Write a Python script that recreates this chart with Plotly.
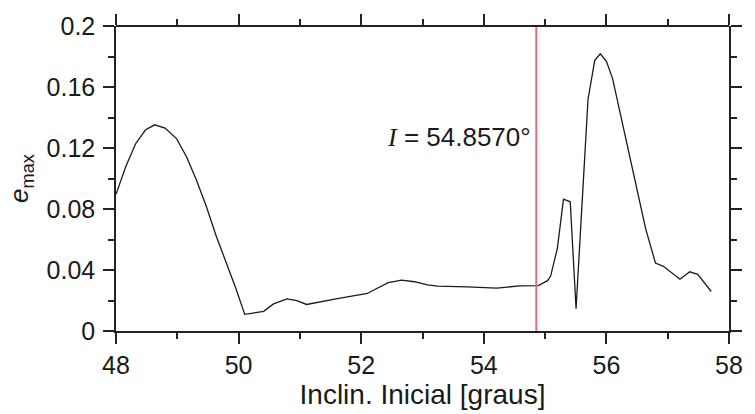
import plotly.graph_objects as go

# Initial inclination [deg] and maximum eccentricity
incl = [48.00, 48.16, 48.32, 48.48, 48.63, 48.80, 48.99, 49.15, 49.31, 49.47,
        49.63, 49.79, 49.95, 50.10, 50.41, 50.57, 50.79, 50.95, 51.11, 51.59,
        52.10, 52.23, 52.44, 52.66, 52.87, 53.08, 53.25, 53.73, 54.21, 54.58,
        54.89, 55.04, 55.09, 55.20, 55.30, 55.41, 55.505, 55.70, 55.81, 55.90,
        56.00, 56.10, 56.29, 56.48, 56.64, 56.80, 56.93, 57.20, 57.36, 57.49,
        57.71]
emax = [0.0896, 0.1078, 0.1228, 0.1318, 0.1352, 0.1331, 0.1260, 0.1143, 0.0992, 0.0821,
        0.0628, 0.0457, 0.0285, 0.0109, 0.0129, 0.0178, 0.0210, 0.0199, 0.0174, 0.0210,
        0.0246, 0.0274, 0.0317, 0.0334, 0.0323, 0.0302, 0.0294, 0.0289, 0.0281, 0.0296,
        0.0298, 0.0330, 0.0360, 0.0542, 0.0864, 0.0847, 0.0146, 0.1518, 0.1775, 0.1818,
        0.1768, 0.1657, 0.1314, 0.0971, 0.0671, 0.0446, 0.0424, 0.0339, 0.0388, 0.0371,
        0.0259]

crit_incl = 54.857
crit_label = "<span style='font-family:Liberation Serif'><i>I</i></span> = 54.8570°"
x_range = [48, 58]
y_range = [0, 0.2]
x_title = "Inclin. Inicial [graus]"
y_title = "<i>e</i><sub>max</sub>"

FONT = "Liberation Sans, Arial, sans-serif"
AX = "#222222"

fig = go.Figure()
fig.add_trace(go.Scatter(x=incl, y=emax, mode="lines",
                         line=dict(color="#1a1a1a", width=1.3),
                         showlegend=False, hoverinfo="skip"))
fig.add_trace(go.Scatter(x=[crit_incl, crit_incl], y=y_range, mode="lines",
                         line=dict(color="rgb(228,108,125)", width=2),
                         showlegend=False, hoverinfo="skip"))
# invisible trace carrying the top frame axis
fig.add_trace(go.Scatter(x=x_range, y=y_range, xaxis="x2", yaxis="y",
                         mode="markers", marker=dict(opacity=0),
                         showlegend=False, hoverinfo="skip"))

common_x = dict(range=x_range, dtick=2, tick0=48, ticks="outside", ticklen=11,
                tickwidth=1.5, tickcolor=AX, showline=True, linecolor=AX,
                linewidth=1.5, showgrid=False, zeroline=False,
                minor=dict(dtick=1, ticklen=6, tickwidth=1.5, tickcolor=AX,
                           ticks="outside", showgrid=False))
common_y = dict(range=y_range, dtick=0.04, tick0=0, ticks="outside", ticklen=11,
                tickwidth=1.5, tickcolor=AX, showline=True, linecolor=AX,
                linewidth=1.5, showgrid=False, zeroline=False, mirror="ticks",
                minor=dict(dtick=0.02, ticklen=6, tickwidth=1.5, tickcolor=AX,
                           ticks="outside", showgrid=False))

fig.update_layout(
    width=755, height=414,
    margin=dict(l=116, r=15, t=20, b=83),
    paper_bgcolor="white", plot_bgcolor="white",
    font=dict(family=FONT, color="#1a1a1a"),
    xaxis=dict(**common_x, tickfont=dict(size=25, family=FONT),
               title=dict(text=x_title, font=dict(size=28, family=FONT), standoff=4)),
    xaxis2=dict(**common_x, overlaying="x", side="top", anchor="free", position=1,
                showticklabels=False),
    yaxis=dict(**common_y, tickfont=dict(size=25, family=FONT), ticklabelstandoff=3,
               title=dict(text=y_title, font=dict(size=26, family=FONT), standoff=10)),
    annotations=[dict(x=crit_incl, y=0.127, xref="x", yref="y", text=crit_label,
                      showarrow=False, xanchor="right", yanchor="middle", xshift=-3,
                      font=dict(size=26, family=FONT, color="#1a1a1a"))],
)

fig.write_html("out.html",
               config={"displayModeBar": False},
               post_script="document.body.style.margin='0';document.body.style.overflow='hidden';")
